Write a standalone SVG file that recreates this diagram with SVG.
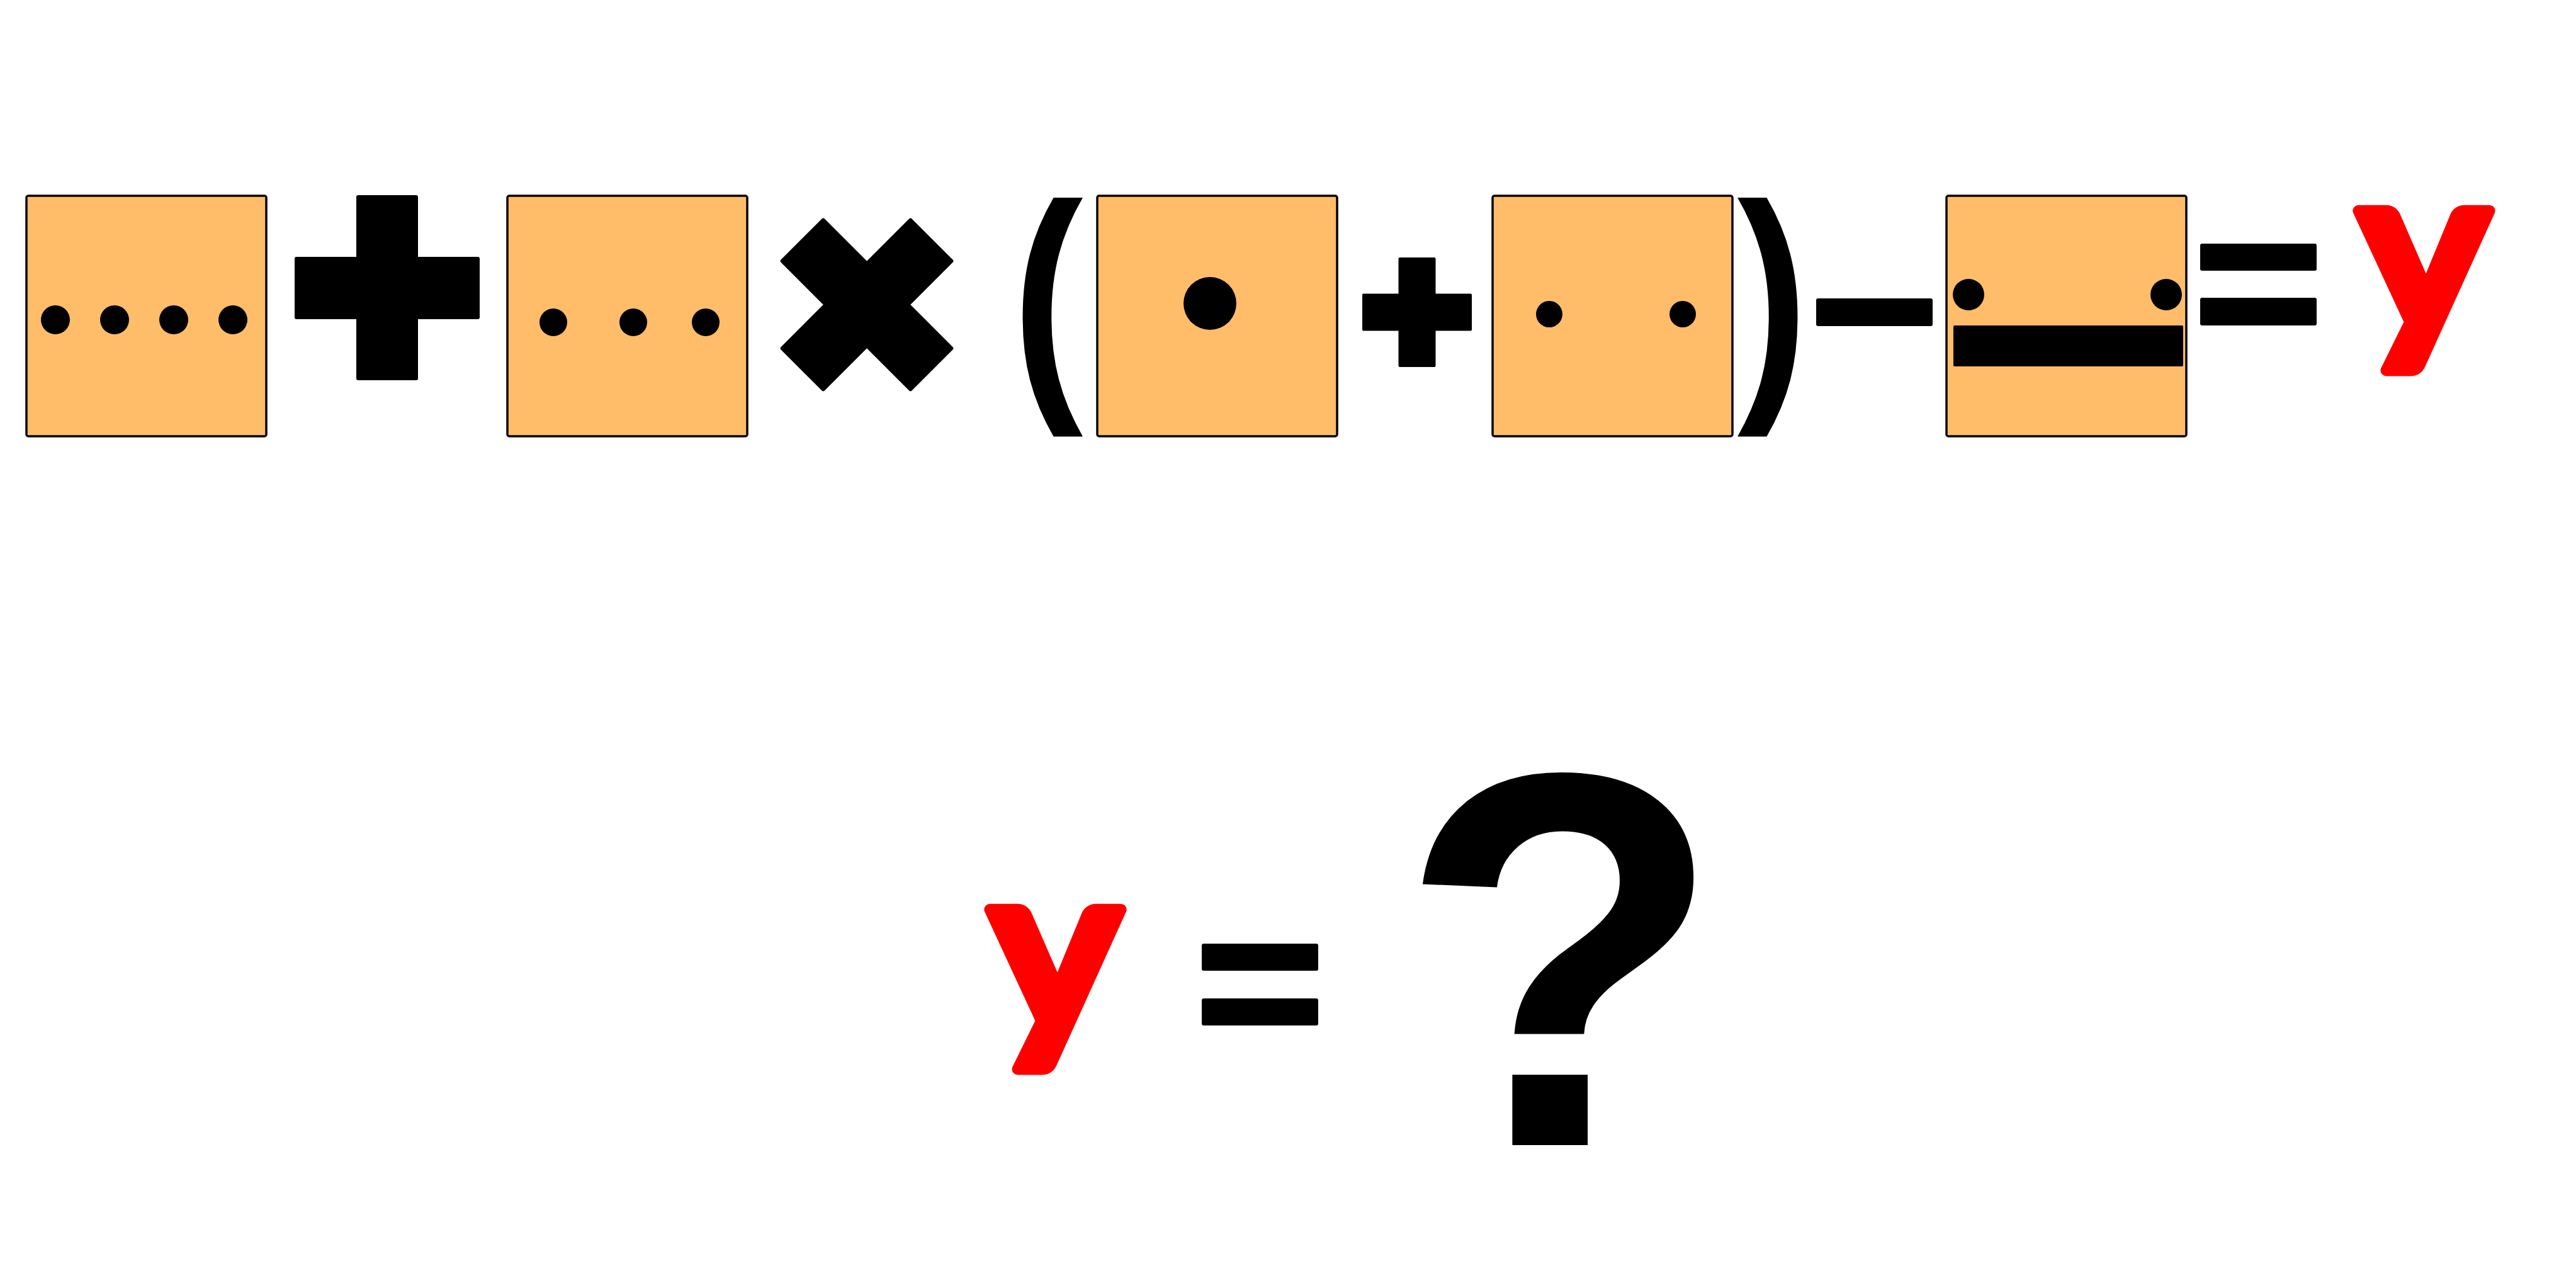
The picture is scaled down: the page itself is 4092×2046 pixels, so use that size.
<svg xmlns="http://www.w3.org/2000/svg" width="4092" height="2046" viewBox="0 0 4092 2046">
<style>
.box{fill:#FFBD69;stroke:#000;stroke-width:3.5}
.blk{fill:#000}
.ry{fill:#FF0000;stroke:#FF0000;stroke-width:18;stroke-linejoin:round;font-family:Lato,"DejaVu Sans",sans-serif;font-weight:bold;font-size:373px;text-anchor:middle}
.par{fill:#000;font-family:"Liberation Sans",Arial,sans-serif;font-weight:bold;font-size:407px;text-anchor:middle}
.q{fill:#000;font-family:"Liberation Sans",Arial,sans-serif;font-weight:bold;font-size:848px;text-anchor:middle}
</style>
<rect width="4092" height="2046" fill="#fff"/>
<g id="box1">
<rect class="box" x="42" y="311" width="381" height="382" rx="3"/>
<circle class="blk" cx="88" cy="508" r="23"/>
<circle class="blk" cx="182" cy="508" r="23"/>
<circle class="blk" cx="276" cy="508" r="23"/>
<circle class="blk" cx="370" cy="508" r="23"/>
</g>
<g id="plus1">
<rect class="blk" x="566" y="310" width="98" height="294" rx="3"/>
<rect class="blk" x="468" y="408" width="294" height="99" rx="3"/>
</g>
<g id="box2">
<rect class="box" x="806" y="311" width="381" height="382" rx="3"/>
<circle class="blk" cx="879" cy="512" r="22"/>
<circle class="blk" cx="1006" cy="512" r="22"/>
<circle class="blk" cx="1121" cy="512" r="22"/>
</g>
<g id="times" transform="translate(1377,484) rotate(45)">
<rect class="blk" x="-147" y="-49" width="294" height="98" rx="3"/>
<rect class="blk" x="-49" y="-147" width="98" height="294" rx="3"/>
</g>
<g id="lparen" transform="translate(1664,609) scale(0.83,1)">
<text class="par" x="0" y="0">(</text>
</g>
<g id="box3">
<rect class="box" x="1743" y="311" width="381" height="382" rx="3"/>
<circle class="blk" cx="1922" cy="482" r="42"/>
</g>
<g id="plus2">
<rect class="blk" x="2221.5" y="409" width="59" height="174" rx="2"/>
<rect class="blk" x="2164" y="466.5" width="174" height="59" rx="2"/>
</g>
<g id="box4">
<rect class="box" x="2371" y="311" width="381" height="382" rx="3"/>
<circle class="blk" cx="2461" cy="499" r="21"/>
<circle class="blk" cx="2673" cy="499" r="21"/>
</g>
<g id="rparen" transform="translate(2816,609) scale(0.83,1)">
<text class="par" x="0" y="0">)</text>
</g>
<g id="minus">
<rect class="blk" x="2885" y="474" width="185" height="44" rx="3"/>
</g>
<g id="box5">
<rect class="box" x="3092" y="311" width="381" height="382" rx="3"/>
<circle class="blk" cx="3127" cy="468" r="25"/>
<circle class="blk" cx="3441" cy="468" r="25"/>
<rect class="blk" x="3103" y="517" width="365" height="65" rx="2"/>
</g>
<g id="equals1">
<rect class="blk" x="3495" y="387" width="185" height="43" rx="3"/>
<rect class="blk" x="3495" y="473" width="185" height="44" rx="3"/>
</g>
<g id="y1" transform="translate(3850,526) scale(1.06,1)">
<text class="ry" x="0" y="0">y</text>
</g>
<g id="y2" transform="translate(1676,1636) scale(1.06,1)">
<text class="ry" x="0" y="0">y</text>
</g>
<g id="equals2">
<rect class="blk" x="1909" y="1499" width="185" height="43" rx="3"/>
<rect class="blk" x="1909" y="1586" width="185" height="43" rx="3"/>
</g>
<g id="question">
<text class="q" x="2480" y="1819">?</text>
</g>
<g id="connectors"></g>
</svg>
